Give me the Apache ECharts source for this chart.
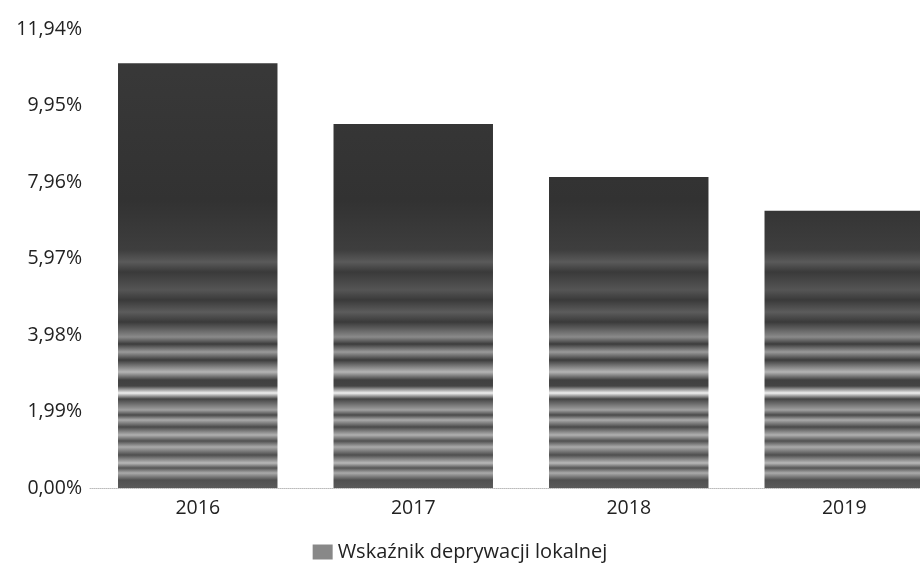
<!DOCTYPE html>
<html><head><meta charset="utf-8">
<script src="https://cdn.jsdelivr.net/npm/echarts@6/dist/echarts.min.js"></script>
<style>html,body{margin:0;padding:0;background:#fff}#c{width:920px;height:565px}</style>
</head><body><div id="c"></div>
<script>
var categories = ['2016', '2017', '2018', '2019'];
var values = [11.05, 9.47, 8.09, 7.21];
var seriesName = 'Wskaźnik deprywacji lokalnej';
var yMin = 0, yMax = 11.94, yStep = 1.99;

var gTop = 29, gBottom = 488;
// stripe pattern of the scanned bars: [pixel y, colour]
var stripePx = [
  [29, '#3a3a3a'], [200, '#323232'], [250, '#3e3e3e'], [262, '#5a5a5a'], [272, '#3a3a3a'],
  [290, '#555'], [300, '#3a3a3a'], [312, '#5c5c5c'], [322, '#3a3a3a'],
  [337, '#8a8a8a'], [344, '#3c3c3c'], [352, '#9a9a9a'], [360, '#3c3c3c'],
  [372, '#b5b5b5'], [380, '#404040'], [386, '#444'], [393, '#f0f0f0'], [399, '#454545'],
  [410, '#a0a0a0'], [415, '#4a4a4a'], [420, '#aaa'], [427, '#4a4a4a'],
  [435, '#b0b0b0'], [441, '#505050'], [447, '#aaa'], [455, '#4e4e4e'],
  [463, '#b8b8b8'], [468, '#555'], [473, '#aaa'], [480, '#505050'], [488, '#5a5a5a']
];
var stops = stripePx.map(function (s) { return {offset: (s[0] - gTop) / (gBottom - gTop), color: s[1]}; });
var barFill = new echarts.graphic.LinearGradient(0, gTop, 0, gBottom, stops, true);

var chart = echarts.init(document.getElementById('c'), null, {renderer: 'canvas'});
chart.setOption({
  animation: false,
  textStyle: {fontFamily: 'Open Sans'},
  grid: {left: 90, width: 862, top: gTop, height: gBottom - gTop, containLabel: false, outerBoundsMode: 'none'},
  xAxis: {
    type: 'category', data: categories,
    axisLine: {show: true, lineStyle: {color: '#bbb', type: 'dotted', width: 1}},
    axisTick: {show: false},
    axisLabel: {color: '#222', fontSize: 19.5, margin: 10}
  },
  yAxis: {
    type: 'value', min: yMin, max: yMax, interval: yStep,
    splitLine: {show: false},
    axisLine: {show: false}, axisTick: {show: false},
    axisLabel: {color: '#222', fontSize: 19.5, margin: 8,
      formatter: function (v) { return v.toFixed(2).replace('.', ',') + '%'; }}
  },
  legend: {
    top: 537, left: 'center', itemWidth: 20, itemHeight: 15, itemGap: 6,
    textStyle: {color: '#222', fontSize: 20},
    data: [{name: seriesName, icon: 'rect', itemStyle: {color: '#888'}}]
  },
  series: [{
    type: 'bar', name: seriesName, data: values, barWidth: '74%',
    itemStyle: {color: barFill}
  }]
});
</script></body></html>
